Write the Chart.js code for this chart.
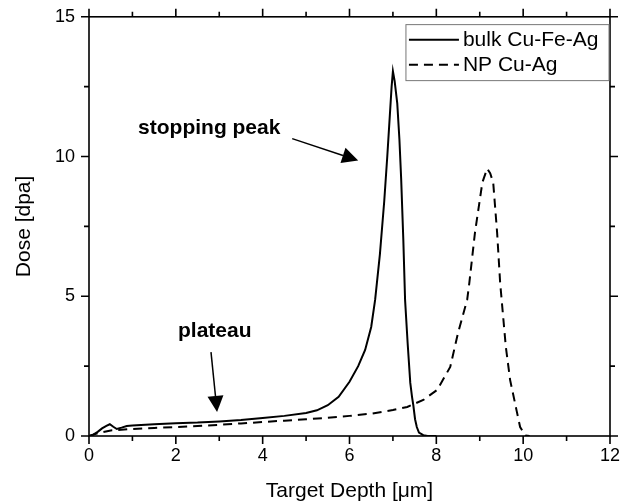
<!DOCTYPE html>
<html><head><meta charset="utf-8">
<script src="https://cdn.jsdelivr.net/npm/chart.js@4/dist/chart.umd.min.js"></script>
<style>html,body{margin:0;padding:0;background:#fff}#wrap{width:627px;height:504px}</style>
</head><body><div id="wrap"><canvas id="c" width="627" height="504"></canvas></div>
<script>
const seriesNames = ['bulk Cu-Fe-Ag', 'NP Cu-Ag'];
const bulkX = [0,0.1,0.2,0.3,0.4,0.48,0.56,0.64,0.75,0.87,1.0,1.5,2.0,2.5,3.0,3.5,4.0,4.5,5.0,5.25,5.5,5.75,6.0,6.2,6.36,6.5,6.59,6.7,6.8,6.87,6.93,6.97,7.0,7.04,7.1,7.15,7.19,7.24,7.28,7.34,7.40,7.44,7.47,7.51,7.55,7.6,7.7,7.8,8.0];
const bulkY = [0,0.05,0.15,0.27,0.36,0.42,0.33,0.25,0.3,0.36,0.38,0.42,0.46,0.48,0.52,0.57,0.64,0.72,0.82,0.92,1.1,1.4,1.94,2.5,3.08,3.9,4.87,6.5,8.4,10.0,11.5,12.5,13.05,12.7,11.9,10.6,9.2,7.0,4.87,3.3,1.9,1.4,1.1,0.6,0.32,0.12,0.03,0.0,0.0];
const npX = [0,0.2,0.5,1.0,1.5,2.0,2.5,3.0,3.5,4.0,4.5,5.0,5.5,6.0,6.5,7.0,7.33,7.7,8.02,8.32,8.5,8.71,8.76,8.89,9.06,9.17,9.24,9.31,9.40,9.47,9.6,9.7,9.85,9.93,10.05,10.15];
const npY = [0,0.1,0.2,0.25,0.29,0.32,0.36,0.4,0.45,0.5,0.55,0.6,0.65,0.72,0.8,0.93,1.04,1.29,1.65,2.47,3.69,4.87,5.48,7.28,9.07,9.57,9.4,9.07,7.28,5.48,3.2,2.0,0.9,0.32,0.02,0];
const xMajorTicks = [0,2,4,6,8,10,12];
const yMajorTicks = [0,5,10,15];
// annotations anchored in data units
const notes = [
  {text:'stopping peak', x:1.13, y:10.82, ax0:4.68, ay0:10.64, ax1:6.2, ay1:9.86},
  {text:'plateau', x:2.05, y:3.54, ax0:2.81, ay0:3.0, ax1:2.95, ay1:0.86}
];

const FONT = '"Liberation Sans", Arial, sans-serif';
const toPts = (xs, ys) => xs.map((x,i)=>({x:x, y:ys[i]}));

function arrow(ctx, x0, y0, x1, y1, hl, hw){
  const a = Math.atan2(y1-y0, x1-x0);
  const bx = x1 - hl*Math.cos(a), by = y1 - hl*Math.sin(a);
  ctx.beginPath(); ctx.moveTo(x0,y0); ctx.lineTo(bx,by); ctx.stroke();
  ctx.beginPath();
  ctx.moveTo(x1,y1);
  ctx.lineTo(bx + hw/2*Math.sin(a), by - hw/2*Math.cos(a));
  ctx.lineTo(bx - hw/2*Math.sin(a), by + hw/2*Math.cos(a));
  ctx.closePath(); ctx.fill();
}

const framePlugin = {
  id:'frame',
  afterDraw(chart){
    const ctx = chart.ctx, a = chart.chartArea, xs = chart.scales.x, ys = chart.scales.y;
    ctx.save();
    ctx.strokeStyle = '#000'; ctx.fillStyle = '#000'; ctx.lineWidth = 1.6;
    ctx.strokeRect(a.left, a.top, a.right-a.left, a.bottom-a.top);
    const MJ = 8, MN = 5;
    ctx.beginPath();
    for(let v=0; v<=12; v+=1){
      const p = xs.getPixelForValue(v), L = (v%2===0)?MJ:MN;
      ctx.moveTo(p, a.bottom); ctx.lineTo(p, a.bottom+L);
      ctx.moveTo(p, a.top); ctx.lineTo(p, a.top-L);
    }
    for(let v=0; v<=15; v+=2.5){
      const p = ys.getPixelForValue(v), L = (v%5===0)?MJ:MN;
      ctx.moveTo(a.left, p); ctx.lineTo(a.left-L, p);
      ctx.moveTo(a.right, p); ctx.lineTo(a.right+L, p);
    }
    ctx.stroke();
    // legend
    const lx = xs.getPixelForValue(7.3), lt = ys.getPixelForValue(14.72);
    const lw = a.right - 1 - lx, lh = 56;
    ctx.lineWidth = 1; ctx.strokeStyle = '#777';
    ctx.strokeRect(lx, lt, lw, lh);
    ctx.font = '21px ' + FONT; ctx.textBaseline = 'middle'; ctx.textAlign = 'left';
    chart.data.datasets.forEach((ds,i)=>{
      const yy = lt + 15 + i*25;
      ctx.strokeStyle = '#000'; ctx.lineWidth = 2;
      ctx.setLineDash(ds.borderDash || []);
      ctx.beginPath(); ctx.moveTo(lx+3, yy); ctx.lineTo(lx+53, yy); ctx.stroke();
      ctx.setLineDash([]);
      ctx.fillText(ds.label, lx+57, yy+1);
    });
    // annotations
    ctx.font = 'bold 21px ' + FONT; ctx.textBaseline = 'alphabetic';
    ctx.lineWidth = 1.5; ctx.strokeStyle = '#000';
    notes.forEach(n=>{
      ctx.fillText(n.text, xs.getPixelForValue(n.x), ys.getPixelForValue(n.y));
      arrow(ctx, xs.getPixelForValue(n.ax0), ys.getPixelForValue(n.ay0),
                 xs.getPixelForValue(n.ax1), ys.getPixelForValue(n.ay1), 16, 16);
    });
    ctx.restore();
  }
};

new Chart(document.getElementById('c'), {
  type:'scatter',
  data:{datasets:[
    {label:seriesNames[0], data:toPts(bulkX,bulkY), showLine:true, borderColor:'#000', borderWidth:2, pointRadius:0, tension:0},
    {label:seriesNames[1], data:toPts(npX,npY), showLine:true, borderColor:'#000', borderWidth:2, borderDash:[9,6], pointRadius:0, tension:0}
  ]},
  options:{
    responsive:false, animation:false,
    layout:{padding:{top:16, right:17, left:0, bottom:0}},
    plugins:{legend:{display:false}, tooltip:{enabled:false}},
    scales:{
      x:{type:'linear', min:0, max:12,
        afterFit:s=>{s.height = 68;},
        afterBuildTicks:s=>{s.ticks = xMajorTicks.map(v=>({value:v}));},
        grid:{display:true, drawOnChartArea:false, drawTicks:true, tickLength:8, color:'rgba(0,0,0,0)'},
        border:{display:false},
        ticks:{color:'#000', padding:1, font:{family:FONT, size:18}, maxRotation:0},
        title:{display:true, text:'Target Depth [μm]', color:'#000', font:{family:FONT, size:21}, padding:{top:8, bottom:0}}
      },
      y:{type:'linear', min:0, max:15,
        afterFit:s=>{s.width = 89;},
        afterBuildTicks:s=>{s.ticks = yMajorTicks.map(v=>({value:v}));},
        grid:{display:true, drawOnChartArea:false, drawTicks:true, tickLength:8, color:'rgba(0,0,0,0)'},
        border:{display:false},
        ticks:{color:'#000', padding:6, font:{family:FONT, size:18}},
        title:{display:true, text:'Dose [dpa]', color:'#000', font:{family:FONT, size:21}, padding:{top:12, bottom:0}}
      }
    }
  },
  plugins:[framePlugin]
});
</script></body></html>
